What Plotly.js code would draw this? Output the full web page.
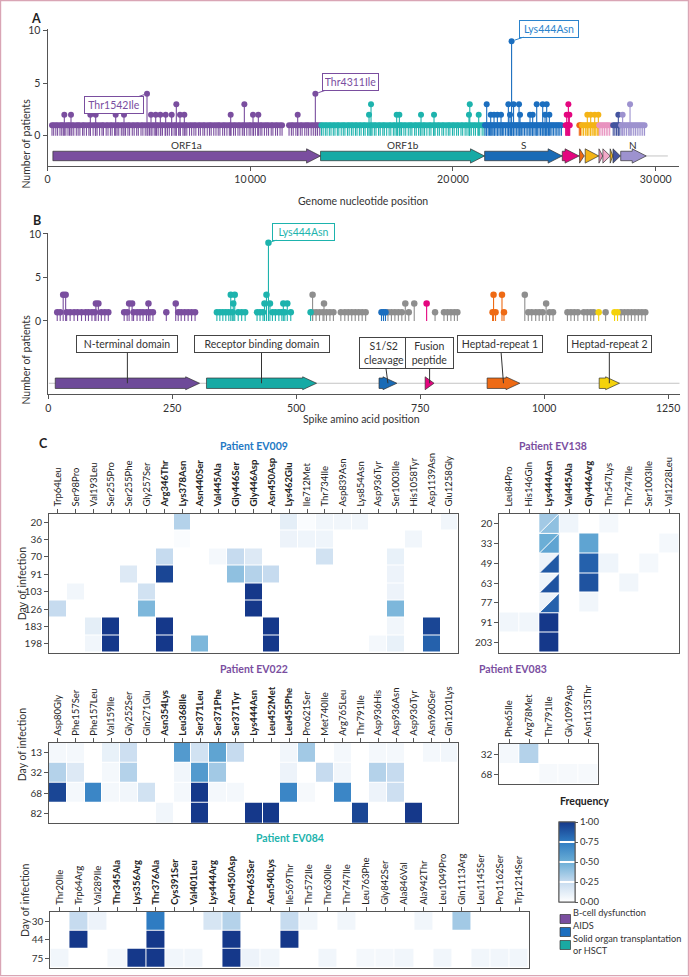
<!DOCTYPE html>
<html><head><meta charset="utf-8">
<script src="https://cdn.plot.ly/plotly-3.0.1.min.js"></script>
<style>html,body{margin:0;padding:0;background:#fff}#chart{width:689px;height:977px}</style>
</head><body><div id="chart"></div>
<script>
// ===================== DATA =====================
// ---- Panel A: genome genes ----
const geneNames  = ['ORF1a','ORF1b','S','ORF3a','E','M','ORF6','ORF7a','ORF7b','ORF8','N'];
const geneStart  = [266, 13468, 21563, 25393, 26245, 26523, 27202, 27394, 27756, 27894, 28274];
const geneEnd    = [13468, 21555, 25384, 26220, 26472, 27191, 27387, 27759, 27887, 28259, 29533];
const geneLabels = ['ORF1a','ORF1b','S','','','','','','','','N'];

// ---- Panel A: mutations seen in a single patient (nucleotide position) ----
const orf1aSingle = [222,305,410,498,615,702,780,905,1010,1085,1203,1296,1420,1511,1598,1730,1805,1922,2040,2118,2250,2361,2447,2570,2688,2760,2894,2985,3102,3188,3310,3432,3515,3640,3725,3850,3967,4050,4182,4275,4398,4480,4612,4705,4820,4950,5030,5155,5262,5378,5460,5590,5672,5801,5915,6008,6130,6245,6330,6467,6555,6680,6790,6872,7005,7110,7223,7318,7450,7540,7665,7752,7880,7990,8075,8201,8310,8420,8507,8640,8735,8850,8968,9050,9177,9270,9395,9488,9610,9702,9830,9945,10030,10160,10255,10370,10490,10575,10700,10810,10905,11035,11120,11250,11346,11470,11570,11915,12030,12120,12250,12345,12470,12560,12690,12790,12880,13005,13110,13230,13320,13430];
const orf1bSingle = [13512,13598,13705,13790,13902,13985,14097,14180,14296,14371,14488,14590,14672,14795,14880,14990,15077,15190,15268,15385,15470,15590,15668,15790,15920,16010,16122,16205,16330,16412,16540,16615,16730,16850,16935,17060,17140,17270,17390,17465,17580,17670,17795,17890,17975,18110,18190,18305,18390,18520,18600,18712,18830,18915,19040,19120,19245,19330,19455,19540,19660,19770,19850,19975,20060,20180,20270,20395,20480,20600,20690,20810,20905,21020,21110,21230,21320,21440,21530];
const sSingle     = [21580,21650,21742,21805,21890,21962,22045,22120,22210,22275,22360,22440,22505,22590,22672,22740,22830,22905,22975,23060,23140,23210,23300,23375,23450,23530,23610,23690,23760,23850,23925,24000,24085,24160,24245,24320,24395,24480,24560,24640,24715,24800,24880,24955,25040,25120,25190,25270,25350];
const orf3aSingle = [25560,25612,25655,25705,25760];
const eSingle     = [26232,26290];
const mSingle     = [26360,26440,26530,26615,26705,26785,26870,26950,27045,27120];
const orf67Single = [27215,27300,27385,27470,27560,27640,27730];
const orf8Single  = [27905,27985,28065,28150,28230];
const nSingle     = [28300,28385,28470,28560,28650,28735,28820,28915,29000,29090,29180,29270,29360,29450];

// ---- Panel A: mutations seen in more than one patient ----
const orf1aMultiPos = [830,1159,2113,2376,3363,3774,5106,5336,5566,5829,6125,6536,6750,9036,10137,10400,12341,6355,9710,4908,13212];
const orf1aMultiCnt = [2,2,2,2,2,2,2,2,2,2,2,2,2,2,2,2,2,3,3,4,4];
const orf1bMultiPos = [15860,17224,17356,18425,19066,20790,21270,15959,20830];
const orf1bMultiCnt = [2,2,2,2,2,2,2,3,3];
const sMultiPos     = [21862,22026,22190,22371,22815,23308,23802,23933,24542,24755,21664,22733,22990,23259,24131,24427,24624,22892];
const sMultiCnt     = [2,2,2,2,2,2,2,2,2,2,3,3,3,3,3,3,3,9];
const orf3aMultiPos = [25611,25742,25693];
const orf3aMultiCnt = [2,2,3];
const mMultiPos     = [26628,26794,26992,27172];
const mMultiCnt     = [2,2,2,2];
const orf8MultiPos  = [28158];
const orf8MultiCnt  = [2];
const nMultiPos     = [28370,28735];
const nMultiCnt     = [2,3];

const genomeCalloutLabel = ['Thr1542Ile','Thr4311Ile','Lys444Asn'];
const genomeCalloutPos   = [4908,13212,22892];
const genomeCalloutCnt   = [4,4,9];

// ---- Panel B: spike domains (amino acid) ----
const domainNames = ['N-terminal domain','Receptor binding domain','S1/S2<br>cleavage','Fusion<br>peptide','Heptad-repeat 1','Heptad-repeat 2'];
const domainStart = [14, 319, 667, 760, 885, 1111];
const domainEnd   = [305, 541, 703, 778, 951, 1152];
const spikeLength = 1273;

// ---- Panel B: spike mutations ----
const ntdSingle   = [18,24,37,44,52,59,67,75,81,88,94,107,114,121,153,159,172,179,185,191,198,205,211,238,262,268,275,282,289,296];
const ntdMultiPos = [30,35,96,101,163,169,202,257];
const ntdMultiCnt = [3,3,2,2,2,2,2,2];
const rbdSingle   = [340,346,352,358,364,371,383,390,397,421,427,433,452,458,465,471,477,489,529];
const rbdMultiPos = [368,376,373,436,440,447,474,482,444];
const rbdMultiCnt = [3,3,2,2,3,2,2,2,9];
const otherSingle = [533,540,547,554,561,568,575,590,598,605,612,619,626,633,640,685,692,699,706,713,727,780,798,805,812,819,825,968,975,983,990,997,1011,1018,1047,1054,1061,1068,1080,1087,1094,1100,1124,1155,1162,1169,1176,1183,1190,1197,1204];
const otherMultiPos = [533,961,556,720,738,1004];
const otherMultiCnt = [3,3,2,2,2,2];
const s1s2Single  = [672,676,680];
const fpMultiPos  = [763];
const fpMultiCnt  = [2];
const hr1Single   = [896,902,919];
const hr1MultiPos = [898,915];
const hr1MultiCnt = [3,3];
const hr2Single   = [1110,1142,1148];

const spikeCalloutLabel = ['Lys444Asn'];
const spikeCalloutPos   = [444];
const spikeCalloutCnt   = [9];

// ---- Panel C: within-patient frequencies ----
const ev009Mut = ['Trp64Leu','Ser98Pro','Val193Leu','Ser255Pro','Ser255Phe','Gly257Ser','Arg346Thr','Lys378Asn','Asn440Ser','Val445Ala','Gly446Ser','Gly446Asp','Asn450Asp','Lys462Glu','Ile712Met','Thr734Ile','Asp839Asn','Lys854Asn','Asp936Tyr','Ser1003Ile','His1058Tyr','Asp1139Asn','Glu1258Gly'];
const ev009Day = [20,36,70,91,103,126,183,198];
const ev009Freq = [
 [0,0,0,0,0,0,0,0.3,0,0,0,0,0,0.12,0.02,0.06,0.06,0.06,0,0,0,0,0.06],
 [0,0,0,0,0,0,0,0.02,0,0,0,0,0,0.08,0.07,0.07,0,0,0,0,0.06,0,0],
 [0,0,0,0,0,0,0.25,0,0,0.05,0.25,0.15,0,0,0,0.2,0,0,0,0.1,0,0,0],
 [0,0,0,0,0.15,0,0.95,0,0,0,0.4,0.3,0.25,0,0,0,0,0,0,0.08,0,0,0],
 [0,0.06,0,0,0,0.2,0,0,0,0,0,1,0,0,0,0,0,0,0,0.08,0,0,0],
 [0.25,0,0,0,0,0.45,0,0,0,0,0,1,0,0,0,0,0,0,0,0.45,0,0,0],
 [0,0,0.12,1,0,0,1,0,0,0,0,0,1,0,0,0,0,0,0,0.06,0,0.95,0],
 [0,0,0.06,1,0,0,1,0,0.45,0,0,0,1,0,0,0,0,0,0.05,0.1,0,0.85,0]
];
const ev138Mut = ['Leu84Pro','His146Gln','Lys444Asn','Val445Ala','Gly446Arg','Thr547Lys','Thr747Ile','Ser1003Ile','Val1228Leu'];
const ev138Day = [20,33,49,63,77,91,203];
const ev138Freq = [
 [0,0,0.35,0.07,0,0.05,0,0,0],
 [0,0,0.5,0,0.55,0,0,0,0.05],
 [0,0,0.08,0,0.85,0.07,0,0.05,0],
 [0,0,0.07,0,0.9,0,0.06,0,0],
 [0,0,0.08,0,0.06,0,0,0,0],
 [0.06,0.06,1,0,0,0,0,0,0],
 [0,0,1,0,0,0,0,0,0]
];
// second Lys444Asn allele in EV138 (lower-right half of the cell)
const ev138Lys444Second = [0.4,0.55,0.88,0.9,0.85,null,null];

const ev022Mut = ['Asp80Gly','Phe157Ser','Phe157Leu','Val159Ile','Gly252Ser','Gln271Glu','Asn354Lys','Leu368Ile','Ser371Leu','Ser371Phe','Ser371Tyr','Lys444Asn','Leu452Met','Leu455Phe','Pro621Ser','Met740Ile','Arg765Leu','Thr791Ile','Asp936His','Asp936Asn','Asp936Tyr','Asn960Ser','Gln1201Lys'];
const ev022Day = [13,32,68,82];
const ev022Freq = [
 [0.05,0.05,0,0.1,0.22,0,0,0.6,0.2,0.55,0.25,0,0,0.06,0.35,0,0.05,0,0.05,0.05,0,0.05,0.06],
 [0.3,0.15,0,0.05,0.3,0,0,0.06,0.6,0.35,0,0,0,0.08,0,0.25,0.06,0,0.3,0.25,0,0,0],
 [0.95,0.05,0.7,0.05,0.06,0.2,0,0.05,1,0.05,0.05,0,0,0.7,0.04,0,0.7,0,0.08,0.22,0,0,0],
 [0,0,0,0,0,0,0.06,0,1,0,0,1,1,0,0,0,0,0.95,0,0,1,0,0]
];
const ev083Mut = ['Phe65Ile','Arg78Met','Thr791Ile','Gly1099Asp','Asn1135Thr'];
const ev083Day = [32,68];
const ev083Freq = [
 [0.05,0.3,0,0,0],
 [0,0,0.04,0.04,0.04]
];
const ev084Mut = ['Thr20Ile','Trp64Arg','Val289Ile','Thr345Ala','Lys356Arg','Thr376Ala','Cys391Ser','Val401Leu','Lys444Arg','Asn450Asp','Pro463Ser','Asn540Lys','Ile569Thr','Thr572Ile','Thr630Ile','Thr747Ile','Leu763Phe','Gly842Ser','Ala846Val','Ala942Thr','Leu1049Pro','Gln1113Arg','Leu1145Ser','Pro1162Ser','Trp1214Ser'];
const ev084Day = [30,44,75];
const ev084Freq = [
 [0,0.25,0.08,0,0,0.75,0,0,0.18,0.3,0,0,0.25,0.06,0,0.06,0,0,0,0.06,0,0.35,0,0,0],
 [0,1,0,0,0,1,0,0,0,1,0,0,1,0,0,0,0,0,0,0,0,0,0,0,0],
 [0.06,0,0,0.05,1,1,0.06,0.06,0,1,0.08,0.06,0,0,0.06,0,0.05,0.05,0.06,0,0.06,0,0.06,0.06,0.06]
];
const conditionNames = ['B-cell dysfunction','AIDS','Solid organ transplantation'];

// ===================== STYLE / LAYOUT =====================
const W = 689, H = 977;
const PX = v => v / W, PY = v => 1 - v / H;
const COL = {purple:'#7a4e9f', teal:'#1db3ad', blue:'#1b6ebf', magenta:'#e4067f', orange:'#ee6a14',
  gold:'#f4b416', pink:'#e892bf', navy:'#44549f', lav:'#9d92cf', gray:'#8e8e8e', yellow:'#f4d20c'};
const geneColors = [COL.purple,'#16aaa5','#1a6bb6',COL.magenta,COL.orange,COL.gold,'#ec8fb7','#f2a9c9',COL.gold,COL.navy,COL.lav];
const domainColors = ['#6e4a99','#16aaa5','#1a6bb6',COL.magenta,COL.orange,COL.yellow];
const FONT = 'Lato, "Open Sans", "DejaVu Sans", sans-serif';
const colorscale = [[0,'#ffffff'],[0.25,'#c6dbef'],[0.5,'#6baed6'],[0.75,'#2f7cc2'],[1,'#15388a']];

function hex2rgb(h){return [1,3,5].map(i=>parseInt(h.slice(i,i+2),16));}
function scaleColor(v){
  for(let k=1;k<colorscale.length;k++){
    if(v<=colorscale[k][0]){
      const a=colorscale[k-1][0], b=colorscale[k][0];
      const A=hex2rgb(colorscale[k-1][1]), B=hex2rgb(colorscale[k][1]);
      const t=(v-a)/(b-a);
      return 'rgb('+A.map((x,i)=>Math.round(x+(B[i]-x)*t)).join(',')+')';
    }
  }
  return colorscale[colorscale.length-1][1];
}

const traces = [];
function lollipop(xs, ys, color, xa, ya, size){
  traces.push({type:'scatter', mode:'markers', x:xs, y:ys, xaxis:xa, yaxis:ya,
    marker:{color:color, size:size, line:{width:0}},
    error_y:{type:'data', symmetric:false, array:ys.map(()=>0), arrayminus:ys, width:0, thickness:1.1, color:color},
    hoverinfo:'skip', showlegend:false, cliponaxis:false});
}
const ones = arr => arr.map(()=>1);

// Panel A lollipops
const gA = [
  [orf1aSingle, orf1aMultiPos, orf1aMultiCnt, COL.purple],
  [orf1bSingle, orf1bMultiPos, orf1bMultiCnt, COL.teal],
  [sSingle, sMultiPos, sMultiCnt, COL.blue],
  [orf3aSingle, orf3aMultiPos, orf3aMultiCnt, COL.magenta],
  [eSingle, [], [], COL.orange],
  [mSingle, mMultiPos, mMultiCnt, COL.gold],
  [orf67Single, [], [], COL.pink],
  [orf8Single, orf8MultiPos, orf8MultiCnt, COL.navy],
  [nSingle, nMultiPos, nMultiCnt, COL.lav]
];
gA.forEach(g=>{ lollipop(g[0], ones(g[0]), g[3], 'x','y',6); if(g[1].length) lollipop(g[1], g[2], g[3], 'x','y',6); });

// Panel B lollipops
const gB = [
  [ntdSingle, ntdMultiPos, ntdMultiCnt, COL.purple],
  [otherSingle, otherMultiPos, otherMultiCnt, COL.gray],
  [rbdSingle, rbdMultiPos, rbdMultiCnt, COL.teal],
  [s1s2Single, [], [], COL.blue],
  [[], fpMultiPos, fpMultiCnt, COL.magenta],
  [hr1Single, hr1MultiPos, hr1MultiCnt, COL.orange],
  [hr2Single, [], [], COL.yellow]
];
gB.forEach(g=>{ if(g[0].length) lollipop(g[0], ones(g[0]), g[3], 'x2','y2',6.5); if(g[1].length) lollipop(g[1], g[2], g[3], 'x2','y2',6.5); });

// ---- axes ----
const axBase = {showgrid:false, zeroline:false, showline:true, linecolor:'#555', linewidth:1,
  ticks:'outside', ticklen:4, tickcolor:'#555', tickfont:{size:10.5, color:'#333', family:FONT}, fixedrange:true};
const layout = {
  width:W, height:H, margin:{l:0,r:0,t:0,b:0}, paper_bgcolor:'#fff', plot_bgcolor:'rgba(0,0,0,0)',
  showlegend:false, font:{family:FONT, color:'#333', size:10}, hovermode:false,
  xaxis: Object.assign({}, axBase, {domain:[PX(47.5),PX(679)], anchor:'y', range:[0,31150], tickmode:'array',
    tickvals:[0,10000,20000,30000], ticktext:['0','10\u2009000','20\u2009000','30\u2009000']}),
  yaxis: Object.assign({}, axBase, {domain:[PY(165.7),PY(29)], anchor:'x', range:[-2.857,10.16], tickmode:'array', tickvals:[0,5,10]}),
  xaxis2: Object.assign({}, axBase, {domain:[PX(48.3),PX(680)], anchor:'y2', range:[0,1274], tickmode:'array', tickvals:[0,250,500,750,1000,1250]}),
  yaxis2: Object.assign({}, axBase, {domain:[PY(394.3),PY(233)], anchor:'x2', range:[-8.43,10.11], tickmode:'array', tickvals:[0,5,10]}),
  shapes:[], annotations:[]
};

// ---- Panel A gene arrows ----
const geneY = -1.93;
layout.shapes.push({type:'line', xref:'x', yref:'y', x0:geneStart[0], x1:30600, y0:geneY, y1:geneY, line:{color:'#c4c4c4', width:1}, layer:'below'});
function arrowPath(x0,x1,yc,bh,hh,hlen){
  const hl=Math.min(hlen,x1-x0), xb=x1-hl;
  return `M${x0},${yc-bh} L${xb},${yc-bh} L${xb},${yc-hh} L${x1},${yc} L${xb},${yc+hh} L${xb},${yc+bh} L${x0},${yc+bh} Z`;
}
geneNames.forEach((g,i)=>{
  layout.shapes.push({type:'path', xref:'x', yref:'y', path:arrowPath(geneStart[i],geneEnd[i],geneY,0.45,0.68,690),
    fillcolor:geneColors[i], line:{color:'#333', width:0.7}});
  if(geneLabels[i]) layout.annotations.push({xref:'x', yref:'y', x:(geneStart[i]+geneEnd[i])/2, y:-0.9, text:geneLabels[i],
    showarrow:false, font:{size:10, color:'#333'}});
});

// ---- Panel B domain arrows ----
const domY = -7.16;
layout.shapes.push({type:'line', xref:'x2', yref:'y2', x0:1, x1:spikeLength, y0:domY, y1:domY, line:{color:'#c4c4c4', width:1}, layer:'below'});
const domBoxW = [96,130,44,43,80,79];
const domBoxAx = [0,0,-4,0,-3,0];
const domBoxAy = [-38.8,-38.8,-30,-30,-38.8,-38.8];
domainNames.forEach((d,i)=>{
  layout.shapes.push({type:'path', xref:'x2', yref:'y2', path:arrowPath(domainStart[i],domainEnd[i],domY,0.6,0.74,28),
    fillcolor:domainColors[i], line:{color:'#333', width:0.7}});
  layout.annotations.push({xref:'x2', yref:'y2', x:(domainStart[i]+domainEnd[i])/2, y:domY, ax:domBoxAx[i], ay:domBoxAy[i],
    text:d, showarrow:true, arrowhead:0, arrowwidth:1, arrowcolor:'#333', standoff:0,
    bordercolor:'#444', borderwidth:1, borderpad:2, bgcolor:'#fff', width:domBoxW[i], font:{size:10.5, color:'#333'}});
});

// ---- callouts ----
const gcAx=[-33,35,37], gcAy=[11.3,-11.7,-12.5], gcCol=[COL.purple,COL.purple,'#2a83cc'], gcW=[54,51,54];
genomeCalloutLabel.forEach((t,i)=>layout.annotations.push({xref:'x', yref:'y', x:genomeCalloutPos[i], y:genomeCalloutCnt[i],
  ax:gcAx[i], ay:gcAy[i], text:t, showarrow:true, arrowhead:0, arrowwidth:1, arrowcolor:gcCol[i], standoff:3,
  bordercolor:gcCol[i], borderwidth:1, borderpad:2, bgcolor:'#fff', width:gcW[i], font:{size:10.5, color:gcCol[i]}}));
spikeCalloutLabel.forEach((t,i)=>layout.annotations.push({xref:'x2', yref:'y2', x:spikeCalloutPos[i], y:spikeCalloutCnt[i],
  ax:35, ay:-11, text:t, showarrow:true, arrowhead:0, arrowwidth:1, arrowcolor:COL.teal, standoff:3,
  bordercolor:COL.teal, borderwidth:1, borderpad:2, bgcolor:'#fff', width:57, font:{size:10.5, color:COL.teal}}));

// ---- Panel C heatmaps ----
const rbdLo = domainStart[1], rbdHi = domainEnd[1];
const boldIfRbd = l => { const n = parseInt(l.match(/\d+/)[0],10); return (n>=rbdLo && n<=rbdHi) ? '<b>'+l+'</b>' : l; };
const patients = [
  {id:'EV009', mut:ev009Mut, day:ev009Day, z:ev009Freq, color:'#2479c4', xd:[49,458.3], yd:[513.5,652.5], ty:445.7, dayTitle:[14.3,583]},
  {id:'EV138', mut:ev138Mut, day:ev138Day, z:ev138Freq, color:COL.purple, xd:[499.3,679.3], yd:[513.5,652.5], ty:445.7},
  {id:'EV022', mut:ev022Mut, day:ev022Day, z:ev022Freq, color:COL.purple, xd:[49,458.3], yd:[742.7,823.3], ty:676.7, dayTitle:[14.3,783]},
  {id:'EV083', mut:ev083Mut, day:ev083Day, z:ev083Freq, color:COL.purple, xd:[499.3,598.3], yd:[744,784.3], ty:676.7},
  {id:'EV084', mut:ev084Mut, day:ev084Day, z:ev084Freq, color:COL.teal, xd:[50.4,528.7], yd:[911.7,967.7], ty:845.7, dayTitle:[17,939]}
];
const cbBase = {x:PX(559), xanchor:'left', y:PY(862), yanchor:'middle', len:80, lenmode:'pixels', thickness:16, thicknessmode:'pixels',
  xpad:0, ypad:0, tickvals:[0,0.25,0.5,0.75,1], ticktext:['0·00','0·25','0·50','0·75','1·00'],
  tickfont:{size:9.5, color:'#333', family:FONT}, outlinewidth:1, outlinecolor:'#555'};
patients.forEach((p,k)=>{
  const n = k+3, xa='x'+n, ya='y'+n;
  const idxX = p.mut.map((_,i)=>i), idxY = p.day.map((_,i)=>i);
  const tr = {type:'heatmap', z:p.z, x:idxX, y:idxY, xaxis:xa, yaxis:ya, colorscale:colorscale, zmin:0, zmax:1,
    xgap:1, ygap:1, hoverinfo:'skip', showscale:false};
  if(p.id==='EV009'){ tr.showscale=true; tr.colorbar=Object.assign({}, cbBase, {ticks:'outside', ticklen:3, tickcolor:'#555'}); }
  if(p.id==='EV138'){ tr.showscale=true; tr.colorbar=Object.assign({}, cbBase, {tickvals:[0.25,0.5,0.75], ticktext:['','',''],
    ticks:'inside', ticklen:16, tickcolor:'#ffffff', tickwidth:1.2, showticklabels:false}); }
  traces.push(tr);
  layout['xaxis'+n] = Object.assign({}, axBase, {domain:[PX(p.xd[0]),PX(p.xd[1])], anchor:ya, side:'top', mirror:true,
    range:[-0.5,p.mut.length-0.5], tickmode:'array', tickvals:idxX, ticktext:p.mut.map(boldIfRbd), tickangle:-90,
    tickfont:{size:9.5, color:'#222', family:FONT}});
  layout['yaxis'+n] = Object.assign({}, axBase, {domain:[PY(p.yd[1]),PY(p.yd[0])], anchor:xa, mirror:true,
    range:[p.day.length-0.5,-0.5], tickmode:'array', tickvals:idxY, ticktext:p.day.map(String), tickfont:{size:10, color:'#333', family:FONT}});
  layout.annotations.push({xref:'paper', yref:'paper', x:PX((p.xd[0]+p.xd[1])/2), y:PY(p.ty), text:'<b>Patient '+p.id+'</b>',
    showarrow:false, font:{size:10.5, color:p.color}});
  if(p.dayTitle) layout.annotations.push({xref:'paper', yref:'paper', x:PX(p.dayTitle[0]), y:PY(p.dayTitle[1]), text:'Day of infection',
    textangle:-90, showarrow:false, font:{size:10.5, color:'#333'}});
  if(p.id==='EV138'){
    const c = p.mut.indexOf('Lys444Asn');
    ev138Lys444Second.forEach((v,j)=>{
      if(v===null) return;
      traces.push({type:'scatter', mode:'lines', xaxis:xa, yaxis:ya, x:[c-0.5,c+0.5,c+0.5,c-0.5], y:[j+0.5,j-0.5,j+0.5,j+0.5],
        fill:'toself', fillcolor:scaleColor(v), line:{color:'#ffffff', width:1}, hoverinfo:'skip', showlegend:false});
    });
  }
});

// ---- text annotations ----
const txt = (x,y,t,o) => layout.annotations.push(Object.assign({xref:'paper', yref:'paper', x:PX(x), y:PY(y), text:t, showarrow:false,
  font:{size:10.5, color:'#333'}}, o||{}));
txt(30,10,'<b>A</b>',{borderpad:0, font:{size:12.5,color:'#222'}});
txt(32,212,'<b>B</b>',{borderpad:0, font:{size:12.5,color:'#222'}});
txt(37.7,444,'<b>C</b>',{borderpad:0, font:{size:12.5,color:'#222'}});
txt(17.6,97,'Number of patients',{textangle:-90});
txt(17.6,313,'Number of patients',{textangle:-90});
txt(363,193,'Genome nucleotide position');
txt(362,419,'Spike amino acid position');
txt(558,809,'<b>Frequency</b>',{xanchor:'left', font:{size:10.5, color:'#222'}});

// legend
const legColors = [COL.purple, '#1b6ebf', '#1aa9a3'];
const legY = [919, 932, 945];
conditionNames.forEach((c,i)=>{
  layout.shapes.push({type:'rect', xref:'paper', yref:'paper', x0:PX(560), x1:PX(570.5), y0:PY(legY[i]+4.5), y1:PY(legY[i]-4.5),
    fillcolor:legColors[i], line:{color:'#333', width:0.7}});
  txt(572, legY[i], c, {xanchor:'left', borderpad:0, font:{size:9.2, color:'#333'}});
});
txt(572, 957, 'or HSCT', {xanchor:'left', borderpad:0, font:{size:9.2, color:'#333'}});

// outer frame
layout.shapes.push({type:'rect', xref:'paper', yref:'paper', x0:PX(0.6), x1:PX(688.4), y0:PY(975.6), y1:PY(0.6),
  line:{color:'#d9a5b5', width:1.2}, fillcolor:'rgba(0,0,0,0)'});

Plotly.newPlot('chart', traces, layout, {staticPlot:true, displayModeBar:false});
</script></body></html>
